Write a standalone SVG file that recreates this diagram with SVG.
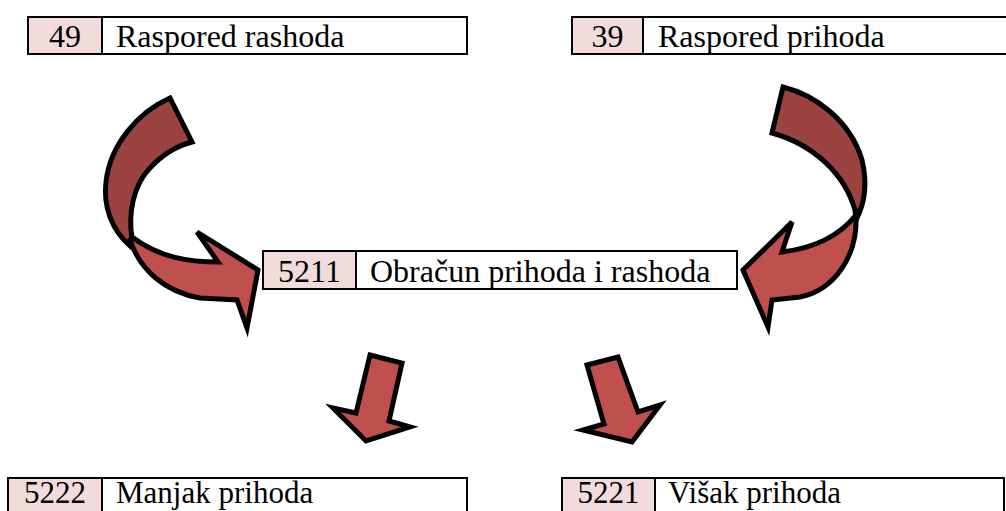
<svg xmlns="http://www.w3.org/2000/svg" width="1006" height="511" viewBox="0 0 1006 511">
<style>
.box{fill:#ffffff;stroke:#000;stroke-width:2}
.num{fill:#f2dcdb;stroke:#000;stroke-width:2}
.t{font-family:"Liberation Serif","Times New Roman",serif;font-size:32px;fill:#000}
.b{font-size:31px}
.c{text-anchor:middle}
.dark{fill:#9a4341;stroke:#000;stroke-width:5;stroke-linejoin:miter}
.light{fill:#c0504d;stroke:#000;stroke-width:5;stroke-linejoin:miter}
</style>
<rect width="1006" height="511" fill="#fff"/>
<g id="connectors">
  <g id="arrow-left-curved">
    <path class="dark" d="M170,98 C138,112 110,145 106,182 C103,207 112,230 130,246 L132,238 C128,215 133,185 150,168 C162,155 176,146 192,142 Z"/>
    <path class="light" d="M130,240 C140,270 165,292 200,298 L237,300 L247,328 L258,270 L197,232 L218,262 C190,262 160,258 132,237 Z"/>
  </g>
  <g id="arrow-right-curved">
    <path class="dark" d="M783,87 C815,95 850,120 862,160 C868,185 864,205 856,220 L855,210 C845,175 815,145 772,133 Z"/>
    <path class="light" d="M856,215 C858,255 835,290 800,297 L772,300 L768,327 L743,270 L792,222 L782,252 C815,248 840,235 856,215 Z"/>
  </g>
  <polygon id="arrow-down-left" class="light" points="370,355 402,363 389,421 410,427 366,441 333,408 356,413"/>
  <polygon id="arrow-down-right" class="light" points="587,365 618,357 638,412 660,405 632,442 583,430 604,424"/>
</g>
<g id="node-49">
  <rect class="box" x="28" y="17" width="439" height="37"/>
  <rect class="num" x="28" y="17" width="74" height="37"/>
  <text class="t c" x="65" y="47">49</text>
  <text class="t" x="116" y="47">Raspored rashoda</text>
</g>
<g id="node-39">
  <rect class="box" x="572" y="17" width="440" height="37"/>
  <rect class="num" x="572" y="17" width="71" height="37"/>
  <text class="t c" x="607.5" y="47">39</text>
  <text class="t" x="658" y="47">Raspored prihoda</text>
</g>
<g id="node-5211">
  <rect class="box" x="263" y="251" width="474" height="38"/>
  <rect class="num" x="263" y="251" width="93" height="38"/>
  <text class="t c" x="309.5" y="282">5211</text>
  <text class="t" x="370" y="282">Obračun prihoda i rashoda</text>
</g>
<g id="node-5222">
  <rect class="box" x="8" y="478" width="459" height="40"/>
  <rect class="num" x="8" y="478" width="94" height="40"/>
  <text class="t b c" x="55" y="503">5222</text>
  <text class="t b" x="116" y="503">Manjak prihoda</text>
</g>
<g id="node-5221">
  <rect class="box" x="562" y="478" width="442" height="40"/>
  <rect class="num" x="562" y="478" width="93" height="40"/>
  <text class="t b c" x="608.5" y="503">5221</text>
  <text class="t b" x="668" y="503">Višak prihoda</text>
</g>
</svg>
